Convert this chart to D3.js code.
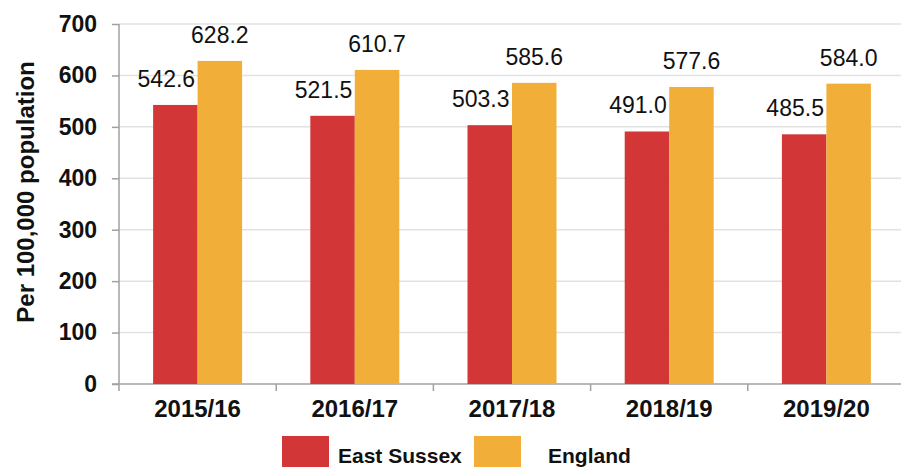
<!DOCTYPE html>
<html>
<head>
<meta charset="utf-8">
<script src="https://cdn.jsdelivr.net/npm/d3@7"></script>
<style>
  html, body { margin: 0; padding: 0; background: #fff; }
  svg { display: block; font-family: "Liberation Sans", Arial, sans-serif; }
</style>
</head>
<body>
<svg id="chart" width="901" height="467"></svg>
<script>
const categories = ["2015/16", "2016/17", "2017/18", "2018/19", "2019/20"];
const seriesNames = ["East Sussex", "England"];
const eastSussex = [542.6, 521.5, 503.3, 491.0, 485.5];
const england = [628.2, 610.7, 585.6, 577.6, 584.0];
const yTicks = [0, 100, 200, 300, 400, 500, 600, 700];
const colors = ["#D33636", "#F1AE39"];
const yTitle = "Per 100,000 population";

const seriesValues = [eastSussex, england];
const svg = d3.select("#chart");

const x0 = d3.scaleBand().domain(categories).range([119, 905]).padding(0);
const step = x0.step();
const x1 = d3.scaleBand().domain(seriesNames).range([step * 0.217, step * 0.783]).padding(0);
const y = d3.scaleLinear().domain([0, 700]).range([384, 24]);

// gridlines
svg.append("g").selectAll("line").data(yTicks.filter(d => d > 0)).join("line")
  .attr("x1", 119).attr("x2", 901)
  .attr("y1", d => y(d)).attr("y2", d => y(d))
  .attr("stroke", "#e2e2e2").attr("stroke-width", 1.5);

// y axis
const yAxis = d3.axisLeft(y).tickValues(yTicks).tickSize(7).tickPadding(15).tickFormat(d3.format("d"));
const yg = svg.append("g").attr("transform", "translate(119,0)").call(yAxis);
yg.select(".domain").attr("stroke", "#a0a0a0").attr("stroke-width", 1.5).attr("d", "M0,24V384");
yg.selectAll(".tick line").attr("stroke", "#a0a0a0").attr("stroke-width", 1.5);
yg.selectAll(".tick text").attr("font-size", 23).attr("font-weight", "bold").attr("fill", "#111")
  .attr("font-family", "Liberation Sans, Arial, sans-serif");

// x axis
const xg = svg.append("g").attr("transform", "translate(0,384)");
xg.append("line").attr("x1", 112).attr("x2", 901).attr("y1", 0).attr("y2", 0)
  .attr("stroke", "#a0a0a0").attr("stroke-width", 1.5);
xg.selectAll("line.tk").data(categories).join("line").attr("class", "tk")
  .attr("x1", d => x0(d)).attr("x2", d => x0(d)).attr("y1", 0).attr("y2", 7)
  .attr("stroke", "#a0a0a0").attr("stroke-width", 1.5);
xg.selectAll("text").data(categories).join("text")
  .attr("x", d => x0(d) + step / 2).attr("y", 33)
  .attr("text-anchor", "middle").attr("font-size", 24).attr("font-weight", "bold").attr("fill", "#111")
  .text(d => d);

// bars
const groups = svg.append("g").selectAll("g").data(categories).join("g")
  .attr("transform", d => `translate(${x0(d)},0)`);
groups.selectAll("rect").data((d, i) => seriesNames.map((s, j) => ({ s, j, v: seriesValues[j][i] })))
  .join("rect")
  .attr("x", d => x1(d.s)).attr("width", x1.bandwidth())
  .attr("y", d => y(d.v)).attr("height", d => y(0) - y(d.v))
  .attr("fill", d => colors[d.j]);

// labels
groups.selectAll("text").data((d, i) => seriesNames.map((s, j) => ({ s, j, v: seriesValues[j][i] })))
  .join("text")
  .attr("x", d => x1(d.s) + x1.bandwidth() / 2 + (d.j === 0 ? -9 : 0))
  .attr("y", d => y(d.v) - 18)
  .attr("text-anchor", "middle").attr("font-size", 23).attr("fill", "#111")
  .text(d => d3.format(".1f")(d.v));

// y title
svg.append("text")
  .attr("transform", "translate(34,192) rotate(-90)")
  .attr("text-anchor", "middle").attr("font-size", 24).attr("font-weight", "bold").attr("fill", "#111")
  .text(yTitle);

// legend
const legendX = [282, 474];
const legendTextX = [338, 548];
const lg = svg.append("g").selectAll("g").data(seriesNames).join("g");
lg.append("rect").attr("x", (d, i) => legendX[i]).attr("y", 436).attr("width", 47).attr("height", 31)
  .attr("fill", (d, i) => colors[i]);
lg.append("text").attr("x", (d, i) => legendTextX[i]).attr("y", 463)
  .attr("font-size", 21).attr("font-weight", "bold").attr("fill", "#111")
  .text(d => d);
</script>
</body>
</html>
